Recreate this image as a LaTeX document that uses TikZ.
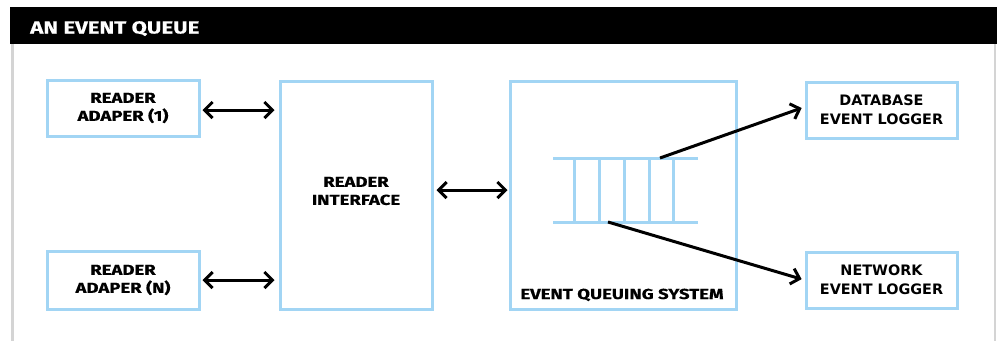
\documentclass[tikz,border=0pt]{standalone}
\usepackage{fontspec}
\setmainfont{Fira Sans}[FakeStretch=1.28, BoldFeatures={FakeBold=0.4}]
\newfontfamily\loggerfont{DejaVu Sans}
\usetikzlibrary{arrows.meta}
\definecolor{boxblue}{HTML}{A2D5F4}
\definecolor{framegray}{HTML}{D4D4D4}
\tikzset{
  comp/.style={draw=boxblue, line width=3pt, align=center, inner sep=0pt},
  label/.style={align=center, inner sep=0pt,
    font=\fontsize{14.5}{18}\selectfont\bfseries},
  logger/.style={comp, font=\loggerfont\fontsize{14.4}{19}\selectfont\bfseries},
  tip/.tip={Straight Barb[length=8pt,width=16pt,line width=3pt]},
  link/.style={line width=3pt, tip-tip},
  feed/.style={line width=3pt, -tip},
  slot/.style={draw=boxblue, line width=3pt}
}
\begin{document}
\begin{tikzpicture}[x=1pt,y=-1pt]
\useasboundingbox (0,0) rectangle (997,341);
\fill[white] (0,0) rectangle (997,341);
% outer frame and title bar
\draw[framegray, line width=2.5pt] (12.5,44) -- (12.5,341);
\draw[framegray, line width=2.5pt] (995,44) -- (995,341);
\fill[black] (10,7) rectangle (997,44);
\node[anchor=base west, text=white, font=\fontsize{17.4}{20}\selectfont\bfseries, inner sep=0pt] (title) at (30,33.5) {AN EVENT QUEUE};

% components
\node[comp, label, minimum width=152pt, minimum height=56pt] (ad1) at (123,108) {READER\\ADAPER (1)};
\node[comp, label, minimum width=152pt, minimum height=58pt] (adn) at (123,280) {READER\\ADAPER (N)};
\node[comp, minimum width=152pt, minimum height=228pt] (ri) at (356,195) {};
\node[label] (rilabel) at (356,191) {READER\\INTERFACE};
\node[comp, minimum width=226pt, minimum height=228pt] (eqs) at (623,195) {};
\node[label, anchor=base] (eqslabel) at (622,299) {EVENT QUEUING SYSTEM};
\node[logger, minimum width=151pt, minimum height=56pt] (db) at (881.5,110) {DATABASE\\EVENT LOGGER};
\node[logger, minimum width=151pt, minimum height=56pt] (net) at (881.5,280) {NETWORK\\EVENT LOGGER};

% the queue
\coordinate (qtl) at (553,158);
\coordinate (qtr) at (698,158);
\coordinate (qbl) at (553,222);
\coordinate (qbr) at (698,222);
\draw[slot] (qtl) -- (qtr);
\draw[slot] (qbl) -- (qbr);
\foreach \x in {574,599,624,649,673} \draw[slot] (\x,158) -- (\x,222);
\coordinate (qout1) at (660,158);
\coordinate (qout2) at (608,222);

% connectors
\draw[link, shorten <=2pt, shorten >=4pt] ([yshift=-2pt]ad1.east) -- ([yshift=-2pt]ri.west |- ad1.east);
\draw[link, shorten <=2pt, shorten >=4pt] (adn.east) -- (ri.west |- adn.east);
\draw[link, shorten <=3pt, shorten >=1pt] ([yshift=5pt]ri.east) -- ([yshift=5pt]eqs.west);
\draw[feed, shorten >=3pt] (qout1) -- ([yshift=3pt]db.west);
\draw[feed, shorten >=3pt] (qout2) -- (net.west);
\end{tikzpicture}
\end{document}
